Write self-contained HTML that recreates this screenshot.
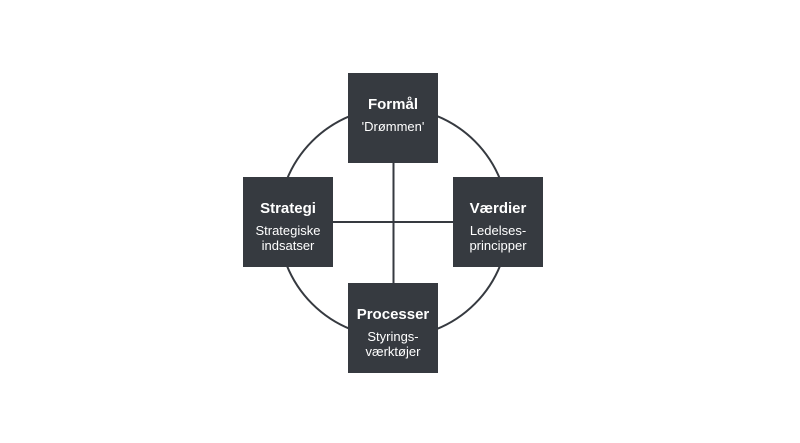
<!DOCTYPE html>
<html><head><style>
html,body{margin:0;padding:0;background:#fff;}
body{width:800px;height:443px;position:relative;overflow:hidden;font-family:"Liberation Sans",sans-serif;}
.b{position:absolute;width:90px;height:90px;background:#363a40;color:#fff;text-align:center;box-sizing:border-box;}
.t{font-weight:bold;font-size:15px;margin-top:23px;line-height:18px;}
.s{font-size:13px;line-height:15px;margin-top:5px;}
</style></head><body>
<svg width="800" height="443" style="position:absolute;left:0;top:0">
<circle cx="393.5" cy="222.5" r="115" fill="none" stroke="#363a40" stroke-width="2"/>
<line x1="393.5" y1="160" x2="393.5" y2="290" stroke="#363a40" stroke-width="2"/>
<line x1="330" y1="222" x2="456" y2="222" stroke="#363a40" stroke-width="2"/>
</svg>
<div class="b" style="left:348px;top:73px"><div class="t">Formål</div><div class="s">'Drømmen'</div></div>
<div class="b" style="left:243px;top:177px"><div class="t">Strategi</div><div class="s">Strategiske<br>indsatser</div></div>
<div class="b" style="left:453px;top:177px"><div class="t">Værdier</div><div class="s">Ledelses-<br>principper</div></div>
<div class="b" style="left:348px;top:283px"><div class="t">Processer</div><div class="s">Styrings-<br>værktøjer</div></div>
</body></html>
